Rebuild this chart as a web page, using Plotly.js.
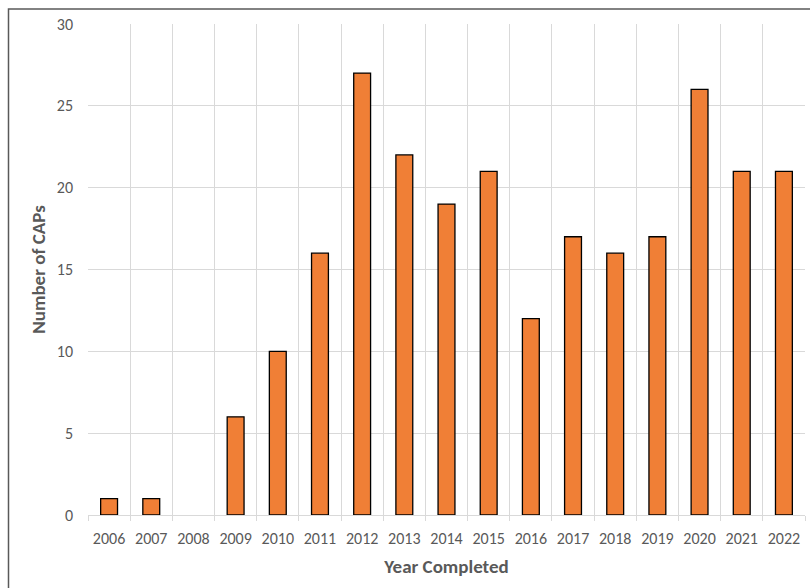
<!DOCTYPE html>
<html>
<head>
<meta charset="utf-8">
<script src="https://cdn.plot.ly/plotly-3.0.1.min.js"></script>
<style>html,body{margin:0;padding:0;background:#fff;}#chart{width:810px;height:588px;}</style>
</head>
<body>
<div id="chart"></div>
<script>
const years = ['2006','2007','2008','2009','2010','2011','2012','2013','2014','2015','2016','2017','2018','2019','2020','2021','2022'];
const caps = [1, 1, 0, 6, 10, 16, 27, 22, 19, 21, 12, 17, 16, 17, 26, 21, 21];

const fontFam = 'Carlito, Calibri, Lato, "Open Sans", sans-serif';
const L = 88, R = 805, T = 24, B = 515;
const pw = R - L, ph = B - T;
const bx = (8.5 - L) / pw, by = (B - 9) / ph;

Plotly.newPlot('chart', [{
  type: 'bar',
  x: years,
  y: caps,
  marker: {color: '#F07F36', line: {color: '#000000', width: caps.map(v => v > 0 ? 1.3 : 0)}},
  hoverinfo: 'x+y'
}], {
  width: 810, height: 588,
  margin: {l: L, r: 810 - R, t: T, b: 588 - B, pad: 0},
  paper_bgcolor: '#ffffff', plot_bgcolor: '#ffffff',
  bargap: 0.6,
  showlegend: false,
  font: {family: fontFam, color: '#595959', size: 16},
  xaxis: {
    type: 'category',
    tickson: 'boundaries',
    ticks: 'outside', ticklen: 5, tickcolor: '#d9d9d9',
    showgrid: true, gridcolor: '#d9d9d9', gridwidth: 1,
    showline: true, linecolor: '#d9d9d9', linewidth: 1,
    ticklabelstandoff: 9,
    tickfont: {size: 16, color: '#595959'},
    title: {text: '<b>Year Completed</b>', font: {size: 19, color: '#595959'}, standoff: 12}
  },
  yaxis: {
    range: [0, 30], dtick: 5, tick0: 0,
    showgrid: true, gridcolor: '#d9d9d9', gridwidth: 1,
    zeroline: false, showline: false,
    ticks: '', ticklabelstandoff: 14,
    tickfont: {size: 16, color: '#595959'},
    title: {text: '<b>Number of CAPs</b>', font: {size: 19, color: '#595959'}, standoff: 6}
  },
  shapes: [{
    type: 'path', xref: 'paper', yref: 'paper',
    path: `M ${bx} -0.3 L ${bx} ${by} L 1.2 ${by}`,
    line: {color: '#595959', width: 1.5}
  }]
}, {displayModeBar: false, staticPlot: true});
</script>
</body>
</html>
